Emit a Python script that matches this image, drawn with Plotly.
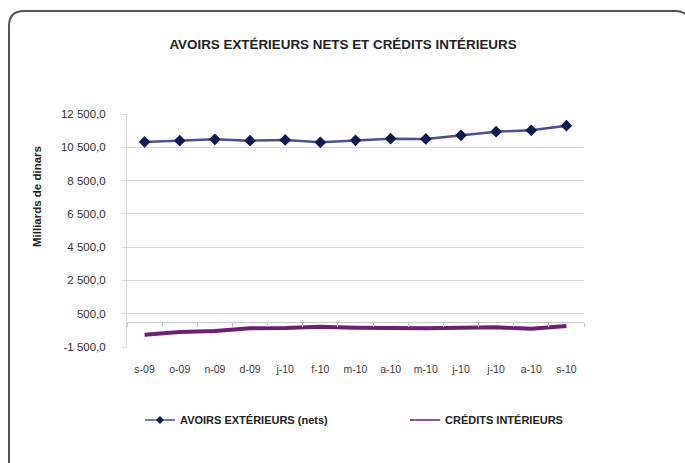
import plotly.graph_objects as go

months = ["s-09", "o-09", "n-09", "d-09", "j-10", "f-10", "m-10", "a-10", "m-10 ", "j-10 ", "j-10  ", "a-10 ", "s-10"]
month_labels = ["s-09", "o-09", "n-09", "d-09", "j-10", "f-10", "m-10", "a-10", "m-10", "j-10", "j-10", "a-10", "s-10"]
avoirs = [10820, 10900, 10980, 10900, 10940, 10800, 10920, 11020, 11000, 11220, 11440, 11520, 11800]
credits = [-760, -600, -540, -380, -360, -280, -340, -380, -380, -340, -320, -400, -240]
y_ticks = [-1500, 500, 2500, 4500, 6500, 8500, 10500, 12500]


def fr_label(v):
    s = f"{abs(v):,.1f}".replace(",", " ").replace(".", ",")
    return ("-" if v < 0 else "") + s


y_ticktext = [fr_label(v) for v in y_ticks]

W, H = 685, 463
L, R, T, B = 127, 101, 114, 116
PW, PH = W - L - R, H - T - B


def px(x):
    return (x - L) / PW


def py(y):
    return (H - B - y) / PH


FONT = "Liberation Sans, Arial, sans-serif"

fig = go.Figure()
fig.add_trace(go.Scatter(
    x=months, y=avoirs, name="AVOIRS EXTÉRIEURS (nets)", mode="lines+markers",
    line=dict(color="#4b5091", width=2.5),
    marker=dict(symbol="diamond", size=9, color="#0f1a50", line=dict(width=0)),
    xaxis="x", yaxis="y", showlegend=False,
))
fig.add_trace(go.Scatter(
    x=months, y=credits, name="CRÉDITS INTÉRIEURS", mode="lines",
    line=dict(color="#6e2070", width=4),
    xaxis="x2", yaxis="y", showlegend=False,
))
# legend-only entries (thin symbols as in the reference legend)
fig.add_trace(go.Scatter(
    x=[None], y=[None], name="<b>AVOIRS EXTÉRIEURS (nets)</b>", mode="lines+markers",
    line=dict(color="#4b5091", width=1.5),
    marker=dict(symbol="diamond", size=6, color="#0f1a50"),
    legend="legend",
))
fig.add_trace(go.Scatter(
    x=[None], y=[None], name="<b>CRÉDITS INTÉRIEURS</b>", mode="lines",
    line=dict(color="#6e2070", width=1.5),
    legend="legend2",
))

legend_common = dict(orientation="h", xanchor="left", yanchor="middle",
                     font=dict(family=FONT, size=11, color="#222222"),
                     bgcolor="rgba(0,0,0,0)", itemclick=False, itemdoubleclick=False)

fig.update_layout(
    width=W, height=H,
    margin=dict(l=L, r=R, t=T, b=B),
    paper_bgcolor="white", plot_bgcolor="white",
    font=dict(family=FONT, size=10, color="#333333"),
    title=dict(text="<b>AVOIRS EXTÉRIEURS NETS ET CRÉDITS INTÉRIEURS</b>",
               x=px(343), xref="paper", y=1 - 44 / H, yref="container",
               xanchor="center", yanchor="middle",
               font=dict(family=FONT, size=13.4, color="#222222")),
    xaxis=dict(type="category", tickmode="array", tickvals=months, ticktext=month_labels,
               showgrid=False, showline=False, ticks="", zeroline=False,
               ticklabelstandoff=14, tickfont=dict(size=10.5, color="#404040"),
               range=[-0.5, 12.5]),
    xaxis2=dict(type="category", overlaying="x", matches="x", anchor="free",
                position=1500 / 14000, showline=True, linecolor="#c8c8c8", linewidth=1,
                ticks="outside", ticklen=4, tickcolor="#c8c8c8", tickson="boundaries",
                showticklabels=False, showgrid=False, zeroline=False),
    yaxis=dict(range=[-1500, 12500], tickmode="array", tickvals=y_ticks, ticktext=y_ticktext,
               showgrid=True, gridcolor="#d9d9d9", gridwidth=1,
               showline=True, linecolor="#d9d9d9", linewidth=1,
               ticks="outside", ticklen=4, tickcolor="#d9d9d9",
               zeroline=False, ticklabelstandoff=14,
               tickfont=dict(size=11.5, color="#333333")),
    showlegend=True,
    legend=dict(x=px(140), y=py(420), **legend_common),
    legend2=dict(x=px(405), y=py(420), **legend_common),
)

fig.add_annotation(text="<b>Milliards de dinars</b>", textangle=-90,
                   x=px(37), y=py(197), xref="paper", yref="paper",
                   xanchor="center", yanchor="middle",
                   showarrow=False, font=dict(family=FONT, size=11.5, color="#222222"))

r = 15
path = (f"M {px(9)},{py(480)} L {px(9)},{py(11 + r)} Q {px(9)},{py(11)} {px(9 + r)},{py(11)} "
        f"L {px(675)},{py(11)} Q {px(690)},{py(11)} {px(690)},{py(11 + r)} L {px(690)},{py(480)}")
fig.add_shape(type="path", path=path, xref="paper", yref="paper",
              line=dict(color="#555555", width=2), layer="above")

fig.write_html("out.html", config={"displayModeBar": False},
               post_script="document.body.style.margin='0';document.body.style.overflow='hidden';")
